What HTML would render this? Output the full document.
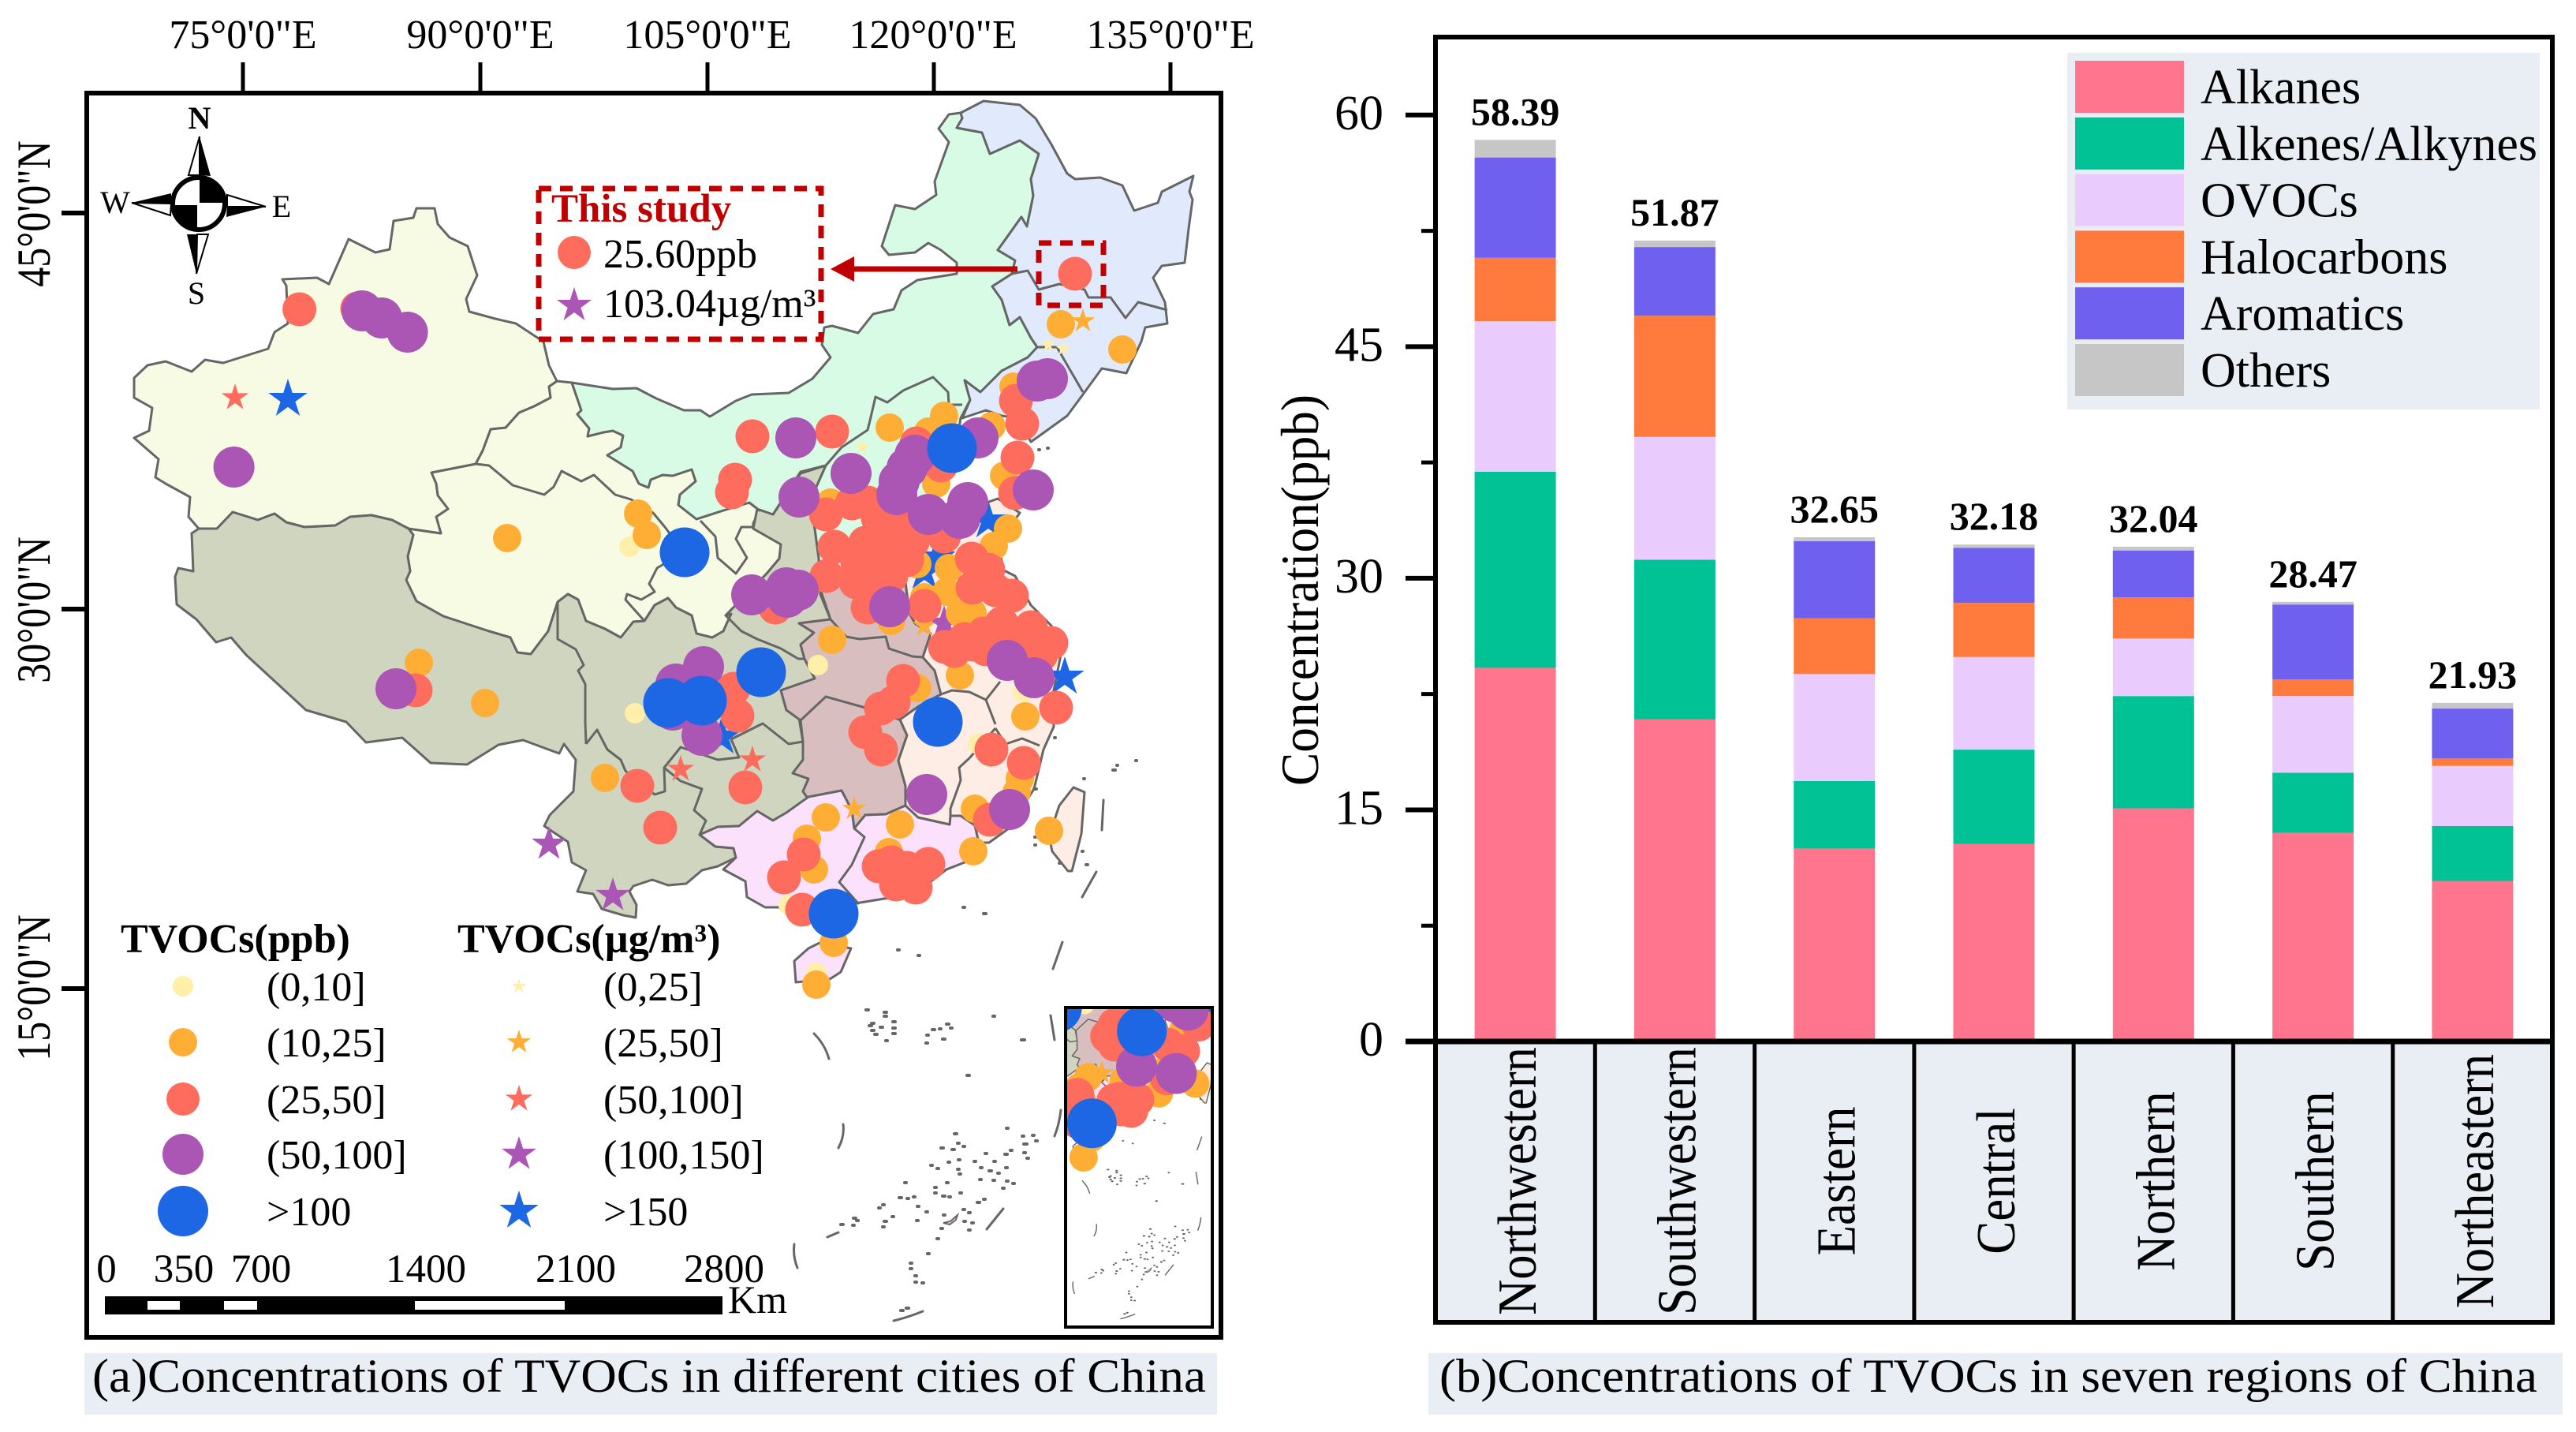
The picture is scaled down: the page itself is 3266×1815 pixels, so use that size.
<!DOCTYPE html>
<html lang="en">
<head>
<meta charset="utf-8">
<title>Concentrations of TVOCs in China</title>
<style>
html,body{margin:0;padding:0;background:#fff;}
svg{display:block;font-family:"Liberation Serif",serif;}
.rg{stroke:#666;stroke-width:3;stroke-linejoin:round;}
.bd{fill:none;stroke:#666;stroke-width:3;stroke-linejoin:round;}
</style>
</head>
<body>
<svg id="figure" xmlns="http://www.w3.org/2000/svg" width="3266" height="1815" viewBox="0 0 3266 1815">
<defs>
<clipPath id="insetClip"><rect x="1351" y="1277" width="186" height="405"/></clipPath>
<g id="baseMap">
<polygon class="rg" fill="#F7FBE3" points="725,485 737,520 732,525 747,543 745,553 765,548 777,546 790,552 787,567 770,577 802,597 810,613 822,618 825,608 840,602 853,603 877,595 882,610 862,627 860,640 883,658 917,647 950,637 963,647 955,663 955,670 990,690 988,708 972,727 920,780 927,778 917,800 903,808 883,803 877,780 857,770 847,758 830,767 817,787 803,788 787,808 767,797 743,787 733,760 720,753 707,763 695,800 673,829 656,827 647,808 620,800 562,781 528,762 515,735 520,724 517,705 524,678 518,670 559,676 553,655 568,645 555,628 553,613 547,599 603,588 612,571 622,544 641,542 658,523 677,515 698,504 696,490 706,483"/>
<polygon class="rg" fill="#F7FBE3" points="528,264 551,264 555,284 570,301 593,312 605,349 591,379 595,395 628,404 654,410 689,433 696,463 706,483 696,490 698,504 677,515 658,523 641,542 622,544 612,571 603,588 547,599 553,613 555,628 568,645 553,655 559,676 518,670 497,659 471,653 444,655 425,666 386,668 363,662 348,651 327,659 295,649 275,670 252,670 239,655 241,630 210,613 197,605 201,582 170,555 189,546 193,517 170,504 170,479 187,463 210,458 243,471 260,456 283,460 340,442 348,421 365,410 363,362 358,354 402,352 417,360 442,303 476,320 494,316 499,280 524,276"/>
<polygon class="rg" fill="#CFD5BF" points="252,670 275,670 295,649 327,659 348,651 363,662 386,668 425,666 444,655 471,653 497,659 518,670 524,678 517,705 520,724 515,735 528,762 562,781 620,800 647,808 656,827 673,829 695,800 707,763 720,753 733,760 743,787 767,797 787,808 803,788 817,787 830,767 847,758 857,770 877,780 883,803 903,808 917,800 927,778 920,780 972,727 988,708 990,690 955,670 960,645 980,652 1015,600 1047,590 1028,633 1038,707 1040,753 1053,785 1013,790 1032,802 1015,817 1020,835 1033,860 990,875 997,900 1013,910 1018,940 1018,963 1005,980 1025,987 1018,1003 1025,1013 997,1030 980,1040 960,1028 937,1047 910,1048 887,1058 907,1073 930,1075 933,1087 910,1098 890,1103 870,1120 847,1122 827,1115 803,1123 798,1130 807,1147 806,1163 790,1160 763,1152 752,1133 732,1130 743,1103 725,1093 720,1067 690,1047 697,1033 727,1003 730,963 715,943 709,955 663,938 632,944 592,969 546,967 510,935 464,941 439,915 388,900 312,830 293,808 274,814 249,785 224,766 222,731 226,720 245,724 243,676"/>
<polygon class="rg" fill="#D9BEBF" points="1040,747 1053,785 1013,790 1032,802 1015,817 1020,835 1033,860 990,875 997,900 1015,913 1018,940 1018,963 1005,980 1025,987 1018,1003 1025,1013 1033,1010 1067,1002 1080,1027 1083,1050 1097,1033 1123,1032 1148,1021 1148,996 1139,964 1150,932 1141,912 1165,895 1193,880 1185,850 1170,833 1180,803 1160,790 1153,777 1147,730 1100,735"/>
<polygon class="rg" fill="#FBE1FB" points="887,1058 910,1048 937,1047 960,1028 980,1040 997,1030 1025,1010 1067,1002 1080,1027 1083,1050 1097,1033 1123,1032 1148,1021 1164,1036 1204,1045 1205,1034 1218,1034 1236,1046 1241,1068 1223,1093 1200,1102 1179,1118 1154,1136 1121,1139 1097,1143 1053,1150 970,1150 947,1137 945,1117 917,1102 933,1087 930,1075 907,1073"/>
<polygon class="rg" fill="#FBE1FB" points="1039,1195 1079,1202 1066,1232 1052,1241 1009,1245 1007,1218 1025,1202"/>
<polygon class="rg" fill="#FDEDE4" points="1147,730 1173,693 1190,640 1243,640 1265,632 1293,650 1265,690 1273,723 1287,730 1307,767 1333,793 1345,830 1335,880 1336,921 1323,950 1311,1000 1279,1050 1254,1068 1241,1068 1236,1046 1218,1034 1205,1034 1204,1045 1164,1036 1148,1021 1148,996 1139,964 1150,932 1141,912 1165,895 1193,880 1185,850 1170,833 1180,803 1160,790 1153,777"/>
<polygon class="rg" fill="#FDEDE4" points="1361,998 1375,1004 1371,1057 1359,1104 1354,1104 1334,1079 1330,1060 1343,1021"/>
<polygon class="rg" fill="#D7FBE5" points="725,485 777,493 807,492 832,505 867,520 888,520 900,528 933,508 953,500 1000,498 1030,480 1053,453 1042,437 1045,415 1055,413 1088,422 1107,398 1133,392 1143,368 1163,355 1213,347 1213,333 1193,317 1177,308 1160,320 1127,323 1118,312 1135,260 1160,265 1187,247 1185,230 1203,180 1190,163 1203,145 1218,143 1220,150 1213,162 1245,168 1255,195 1293,178 1317,195 1307,227 1310,248 1302,287 1295,275 1265,317 1287,330 1283,347 1258,363 1270,380 1280,412 1293,402 1307,428 1315,440 1303,453 1270,470 1243,497 1223,482 1230,507 1218,530 1210,580 1190,610 1180,640 1173,693 1147,730 1100,735 1040,747 1038,707 1028,633 1047,590 1015,598 980,652 960,645 963,647 950,637 917,647 883,658 860,640 862,627 882,610 877,595 853,603 840,602 825,608 822,618 810,613 802,597 770,577 787,567 790,552 777,546 765,548 745,553 747,543 732,525 737,520"/>
<polygon class="rg" fill="#E0EAFC" points="1218,143 1247,128 1293,133 1313,150 1333,183 1353,220 1363,227 1395,225 1423,235 1438,267 1468,257 1473,243 1513,223 1508,243 1512,253 1507,290 1502,333 1473,337 1462,352 1477,383 1480,410 1452,415 1447,433 1428,473 1397,467 1373,500 1353,527 1317,553 1307,560 1290,530 1270,527 1250,520 1220,530 1230,507 1223,482 1243,497 1270,470 1303,453 1315,440 1307,428 1293,402 1280,412 1270,380 1258,363 1283,347 1287,330 1265,317 1295,275 1302,287 1310,248 1307,227 1317,195 1293,178 1255,195 1245,168 1213,162 1220,150"/>
<polyline class="bd" points="707,763 707,810 730,823 740,843 733,850 742,867 742,915 743,943"/>
<polyline class="bd" points="743,943 757,925 770,950 787,963 793,977 830,1007 843,1003 842,973 863,947 910,963 937,960 927,937 967,917 1000,943 1018,940"/>
<polyline class="bd" points="842,973 863,990 890,1000 880,1027 895,1040 887,1058"/>
<polyline class="bd" points="920,780 940,800 960,810 990,822 1012,835 1020,835"/>
<polyline class="bd" points="603,588 620,590 650,615 690,627 702,617 712,597 737,610 753,602 780,627 800,633 828,650 843,668 867,700 833,720 823,740 830,750 813,760 795,753 793,760 817,787"/>
<polyline class="bd" points="888,660 907,680 910,707 933,727 947,707 933,683 940,668 955,668"/>
<polyline class="bd" points="1015,913 1047,883 1097,897 1143,913"/>
<polyline class="bd" points="1053,785 1073,807 1090,810 1123,807 1127,822 1157,832 1170,833"/>
<polyline class="bd" points="1083,1050 1096,1061 1080,1096 1064,1118 1089,1146"/>
<polyline class="bd" points="1262,923 1275,943 1296,936 1318,945"/>
<polyline class="bd" points="1262,923 1229,961 1216,973 1218,989 1205,1025 1205,1034"/>
<polyline class="bd" points="1193,880 1207,875 1229,877 1250,887 1262,918"/>
<polyline class="bd" points="1268,864 1250,887"/>
<polyline class="bd" points="1283,347 1303,343 1317,367 1343,360 1375,367 1380,377 1408,377 1427,403 1443,383 1480,393"/>
<polyline class="bd" points="1315,440 1340,440 1373,497"/>
<polyline class="bd" points="1047,590 1067,567 1100,545 1103,533 1110,503 1125,510 1145,495 1183,478 1202,497 1203,513 1220,513"/>
<g fill="none" stroke="#666" stroke-width="3" stroke-linecap="round">
<path d="M1399,1014L1397,1052M1390,1105L1372,1137M1347,1194L1335,1228M1332,1287L1337,1318M1032,1310Q1046,1324 1051,1342M1069,1425Q1071,1440 1063,1455M1345,1407Q1343,1425 1337,1440M1272,1532L1251,1558M1007,1577Q1005,1592 1011,1607M1170,1662Q1150,1670 1133,1674M1049,1568L1063,1562"/>
</g>
<path fill="none" stroke="#666" stroke-width="4" stroke-linecap="round" d="M1105,1297h3M1102,1300h3M1098,1280h3M1121,1283h3M1121,1288h3M1116,1302h3M1105,1306h3M1132,1295h3M1132,1303h3M1132,1310h3M1109,1311h3M1123,1319h2M1175,1312h2M1182,1305h3M1191,1304h2M1200,1298h3M1205,1303h2M1195,1317h3M1174,1322h2M1259,1288h2M1295,1318h4M1226,1363h3M1210,1437h3M1193,1455h3M1207,1457h3M1214,1449h2M1221,1453h2M1202,1473h2M1215,1470h2M1180,1477h2M1188,1481h2M1214,1482h2M1216,1488h2M1235,1472h2M1243,1480h2M1254,1484h3M1260,1472h2M1265,1487h2M1275,1480h2M1249,1462h2M1274,1463h3M1281,1458h2M1298,1450h4M1296,1440h2M1309,1439h2M1313,1446h2M1298,1461h2M1302,1468h2M1276,1430h2M1242,1495h2M1259,1496h2M1276,1497h2M1284,1500h2M1271,1506h2M1147,1499h2M1200,1499h2M1185,1505h2M1185,1512h2M1195,1516h3M1203,1517h2M1217,1512h2M1140,1518h3M1150,1519h2M1158,1517h2M1119,1527h2M1114,1531h2M1163,1529h2M1239,1524h3M1247,1520h2M1174,1536h2M1221,1533h2M1228,1537h2M1196,1540h2M1162,1547h2M1131,1542h2M1121,1548h3M1119,1555h2M1082,1544h3M1086,1547h2M1081,1553h2M1066,1552h3M1222,1548h2M1232,1550h2M1228,1559h2M1193,1557h2M1188,1570h2M1176,1589h2M1154,1601h2M1154,1608h2M1160,1617h2M1160,1625h2M1169,1626h2M1142,1661h3M1149,1658h3M1221,1150h2M1247,1158h3M1138,1204h2M1164,1211h2M1411,976h3M1416,970h1M1440,964h1M1374,987h1M1372,1079h1M1377,1096h2M1311,1000h3M1337,935h1M1312,1061h1M1312,1071h1M1343,1094h1M1317,570h1M1328,568h1"/>
<polygon fill="#FBE1FB" stroke="#666" stroke-width="2" points="1196,1550 1205,1548 1214,1540 1212,1546 1204,1552"/>
</g>
</defs>

<rect x="0" y="0" width="3266" height="1815" fill="#fff"/>

<!-- PANEL A -->
<g>
<use href="#baseMap"/>
<g id="mapMarkers"></g>

<rect x="1351" y="1277" width="186" height="405" fill="#fff"/>
<g clip-path="url(#insetClip)">
<use href="#baseMap" transform="matrix(.48,0,0,.48,877,868)"/>
<g id="insetMarkers"></g>
</g>
<rect x="1351" y="1277" width="186" height="405" fill="none" stroke="#000" stroke-width="4"/>

<rect x="110" y="118" width="1438" height="1577" fill="none" stroke="#000" stroke-width="6"/>

<g stroke="#000" stroke-width="5">
<line x1="308" y1="79" x2="308" y2="118"/>
<line x1="609" y1="79" x2="609" y2="118"/>
<line x1="897" y1="79" x2="897" y2="118"/>
<line x1="1184" y1="79" x2="1184" y2="118"/>
<line x1="1484" y1="79" x2="1484" y2="118"/>
</g>
<g font-size="52" text-anchor="middle" fill="#000">
<text x="308" y="61">75°0'0"E</text>
<text x="609" y="61">90°0'0"E</text>
<text x="897" y="61">105°0'0"E</text>
<text x="1183" y="61">120°0'0"E</text>
<text x="1484" y="61">135°0'0"E</text>
</g>
<g stroke="#000" stroke-width="6">
<line x1="78" y1="270" x2="110" y2="270"/>
<line x1="78" y1="772" x2="110" y2="772"/>
<line x1="78" y1="1253" x2="110" y2="1253"/>
</g>
<g font-size="50" text-anchor="middle" fill="#000">
<text transform="translate(63,271) rotate(-90) scale(1,1.2)">45°0'0"N</text>
<text transform="translate(63,773) rotate(-90) scale(1,1.2)">30°0'0"N</text>
<text transform="translate(63,1252) rotate(-90) scale(1,1.2)">15°0'0"N</text>
</g>

<g>
<path fill="#fff" stroke="#000" stroke-width="2" d="M253,173L239,222L253,222ZM337,262L288,247L288,262ZM249,347L264,297L250,297ZM167,257L216,273L217,258Z"/>
<path fill="#000" d="M253,173L267,223L253,222ZM337,262L287,275L288,262ZM249,347L237,297L250,297ZM167,257L217,245L217,258Z"/>
<circle cx="252" cy="258" r="33" fill="#fff" stroke="#000" stroke-width="6"/>
<path fill="#000" d="M253,257V227A30,30 0 0 1 282,257ZM250,260H222A30,30 0 0 0 250,290Z"/>
<text x="253" y="163" font-size="40" font-weight="bold" text-anchor="middle">N</text>
<text x="146" y="270" font-size="40" text-anchor="middle">W</text>
<text x="357" y="275" font-size="40" text-anchor="middle">E</text>
<text x="249" y="385" font-size="40" text-anchor="middle">S</text>
</g>

<g>
<rect x="683" y="239" width="358" height="191" fill="#fff" stroke="#C00000" stroke-width="7" stroke-dasharray="16 11"/>
<text x="699" y="281" font-size="51" font-weight="bold" fill="#C00000">This study</text>
<circle cx="728" cy="320" r="21" fill="#FE6C5E"/>
<text x="765" y="339" font-size="52" fill="#000">25.60ppb</text>
<polygon fill="#AB55B5" points="728,364 733.2,380 750,380 736.4,390 741.5,406 728,396 714.5,406 719.6,390 706,380 722.8,380"/>
<text x="765" y="402" font-size="52" fill="#000">103.04µg/m³</text>
<rect x="1317" y="308" width="82" height="79" fill="none" stroke="#C00000" stroke-width="7" stroke-dasharray="16 11"/>
<line x1="1290" y1="341" x2="1075" y2="341" stroke="#C00000" stroke-width="7"/>
<polygon fill="#C00000" points="1053,341 1083,325 1083,357"/>
</g>

<g fill="#000">
<text x="153" y="1207" font-size="52" font-weight="bold">TVOCs(ppb)</text>
<text x="580" y="1207" font-size="52" font-weight="bold">TVOCs(µg/m³)</text>
<circle cx="232" cy="1250" r="13" fill="#FFEFA8"/>
<circle cx="232" cy="1321" r="18" fill="#FFAE35"/>
<circle cx="232" cy="1393" r="21" fill="#FE6C5E"/>
<circle cx="232" cy="1463" r="26" fill="#AB55B5"/>
<circle cx="232" cy="1535" r="32" fill="#1D66E4"/>
<text x="338" y="1268" font-size="52">(0,10]</text>
<text x="338" y="1339" font-size="52">(10,25]</text>
<text x="338" y="1411" font-size="52">(25,50]</text>
<text x="338" y="1481" font-size="52">(50,100]</text>
<text x="338" y="1553" font-size="52">&gt;100</text>
<text x="765" y="1268" font-size="52">(0,25]</text>
<text x="765" y="1339" font-size="52">(25,50]</text>
<text x="765" y="1411" font-size="52">(50,100]</text>
<text x="765" y="1481" font-size="52">(100,150]</text>
<text x="765" y="1553" font-size="52">&gt;150</text>
<g id="legendStars"></g>
</g>

<g>
<rect x="133" y="1643" width="783" height="23" fill="#000"/>
<rect x="187" y="1649" width="41" height="11" fill="#fff"/>
<rect x="284" y="1649" width="42" height="11" fill="#fff"/>
<rect x="526" y="1649" width="190" height="11" fill="#fff"/>
<g font-size="51" text-anchor="middle" fill="#000">
<text x="135" y="1625">0</text>
<text x="233" y="1625">350</text>
<text x="331" y="1625">700</text>
<text x="540" y="1625">1400</text>
<text x="730" y="1625">2100</text>
<text x="918" y="1625">2800</text>
</g>
<text x="923" y="1664" font-size="50" fill="#000">Km</text>
</g>

<rect x="107" y="1715" width="1436" height="78" fill="#E9EEF5"/>
<text x="117" y="1764" font-size="60" textLength="1412" lengthAdjust="spacingAndGlyphs" fill="#000">(a)Concentrations of TVOCs in different cities of China</text>
</g>

<!-- PANEL B -->
<g id="barPanel">
<rect x="1820" y="1320" width="1416" height="356" fill="#E9EEF5"/>
<g id="barMarks"></g>
<g id="barAxes"></g>
<g>
<rect x="2621" y="67" width="599" height="452" fill="#E9EEF5"/>
<g id="barLegend"></g>
</g>
<text transform="translate(1671,748) rotate(-90) scale(1,1.1)" font-size="62" text-anchor="middle" textLength="496" lengthAdjust="spacingAndGlyphs" fill="#000">Concentration(ppb)</text>
<rect x="1811" y="1715" width="1438" height="78" fill="#E9EEF5"/>
<text x="1825" y="1764" font-size="60" textLength="1392" lengthAdjust="spacingAndGlyphs" fill="#000">(b)Concentrations of TVOCs in seven regions of China</text>
</g>
</svg>

<script>
// ---- Bar chart data ----
const categories = ['Northwestern','Southwestern','Eastern','Central','Northern','Southern','Northeastern'];
const seriesNames = ['Alkanes','Alkenes/Alkynes','OVOCs','Halocarbons','Aromatics','Others'];
const alkanes = [24.2,20.85,12.5,12.8,15.1,13.5,10.4];
const alkenes = [12.7,10.35,4.37,6.1,7.27,3.9,3.55];
const ovocs = [9.75,7.95,6.93,6.0,3.73,4.97,3.9];
const halocarbons = [4.1,7.85,3.6,3.5,2.66,1.08,0.48];
const aromatics = [6.5,4.45,5.0,3.56,3.04,4.85,3.23];
const others = [1.14,0.42,0.25,0.22,0.24,0.17,0.37];
const totals = [58.39,51.87,32.65,32.18,32.04,28.47,21.93];
const yTickLabels = ['0','15','30','45','60'];
const yMinorTicks = [7.5,22.5,37.5,52.5];

// ---- Map data: [longitude, latitude] of monitored cities by concentration class ----
const cities0to10 = [[99.5,32.31],[111.45,27.81],[124.45,26.79],[121.6,24.81],[99.85,25.98],[111.35,16.11],[109.6,18.69]];
const cities10to25 = [[91.75,32.64],[100.05,33.57],[100.6,32.76],[126.85,40.77],[130.75,39.81],[116,36.84],[119.45,37.29],[123.85,38.4],[122.45,36.9],[123.25,35.01],[118.45,36.69],[112.25,33.99],[117.75,31.65],[119.75,31.5],[119.6,30.6],[118.2,30.39],[123.5,33],[122.6,32.34],[120.45,29.79],[121.25,29.79],[116.1,29.49],[112.35,28.77],[120.45,27.42],[124.6,25.86],[117.75,26.94],[124.25,23.49],[124.05,22.98],[113.95,33.9],[118.95,34.71],[97.95,23.52],[111.95,22.02],[110.75,21.21],[111.2,20.04],[112.45,17.25],[111.35,15.66],[116.65,21.75],[115.95,20.7],[101.35,21.66],[121.3,20.73],[126.1,21.51],[121.4,22.35],[86.15,27.9],[90.35,26.37]];
const cities25to50 = [[127.75,42.69],[78.58,41.34],[82.25,41.37],[107.3,36.51],[112.35,36.69],[106.2,34.86],[106,34.38],[108.75,30],[124,37.86],[124.4,36.99],[124.1,35.7],[117.7,36.24],[111.95,33.54],[113.6,33.96],[114.6,33.99],[115.95,33.9],[112.5,32.31],[114.45,32.46],[115.6,32.79],[116.25,33.3],[117.45,32.49],[119.45,32.7],[112,31.2],[114.45,31.8],[115.95,32.4],[116.1,31.2],[113.85,30.96],[114.6,30],[118.2,30.06],[121.2,31.86],[122.25,31.44],[121.25,30.75],[122.7,30.66],[123.75,30.45],[119.5,28.5],[120.75,28.8],[121.95,29.01],[123.1,29.4],[124.95,29.25],[126.25,28.65],[124.1,28.5],[125.6,28.2],[122.1,28.41],[126.55,26.19],[123.95,34.35],[119.25,35.4],[116.85,27.21],[116.25,26.4],[115.45,26.16],[114.45,25.26],[115.45,24.6],[106.35,25.89],[106.1,26.91],[122.45,24.6],[124.5,24.09],[106.85,23.16],[100,23.22],[101.45,21.63],[110.55,20.61],[109.3,19.74],[110.45,18.51],[115.3,20.16],[116.1,20.31],[117.1,20.1],[118.45,20.25],[116.4,19.47],[117.65,19.35],[122.35,21.93],[85.95,26.85],[116.1,32.1],[114.6,30.9],[115.25,33.39],[115.1,31.5],[117.1,31.8],[121.25,28.59],[122.95,28.5],[124.6,28.8],[115.25,31.89],[113.95,31.71],[115.25,30.9],[116.25,31.89],[117.25,33.09],[118.6,33.09],[120.1,28.35],[123.1,28.65],[124.6,28.2]];
const cities50to100 = [[82.55,41.28],[83.8,41.01],[85.43,40.47],[74.43,35.34],[110.05,36.45],[110.25,34.2],[107.25,30.48],[109.45,30.75],[110.2,30.66],[109.5,30.39],[125.35,38.61],[126,38.7],[121.6,36.45],[113.55,35.1],[117.6,35.79],[117.1,35.31],[116.6,34.8],[116.45,34.29],[125.1,34.47],[118.45,33.54],[120.45,33.39],[120.95,33.99],[116,30.03],[123.45,27.99],[125.15,27.33],[118.35,22.89],[104.2,27.75],[102.45,27.09],[104.1,25.14],[102.25,26.1],[123.6,22.32],[84.7,26.91]];
const citiesOver100 = [[103,32.1],[119.95,36.06],[107.85,27.54],[119.05,25.65],[101.95,26.37],[104.1,26.46],[112.45,18.36]];
const stars0to25 = [[126.05,39.99],[127,39.84],[114.25,36.09]];
const stars25to50 = [[128.25,40.89],[113.75,22.35],[118.2,29.31]];
const stars50to100 = [[74.5,37.98],[102.75,23.85],[107.3,24.21]];
const stars100to150 = [[94.4,21],[98.45,19.05],[119.45,29.4]];
const starsOver150 = [[77.85,37.92],[118.95,31.89],[122.25,33.3],[127.1,27.36],[118.2,31.35],[105.35,25.08]];

// ---- Palettes and scales ----
const seriesColors = ['#FF758E','#00C295','#E9CCFD','#FF7A3C','#7060F0','#C6C6C6'];
const NS = 'http://www.w3.org/2000/svg';
function mk(tag, parent) {
  const el = document.createElementNS(NS, tag);
  parent.appendChild(el);
  return el;
}
function lonX(lon) { return 308 + (lon - 75) / 0.05; }
function latY(lat) { return 270 + (45 - lat) / 0.03; }
function yScale(v) { return 1320 - v * 19.57; }
const plotLeft = 1820, plotRight = 3236, bandW = (plotRight - plotLeft) / categories.length;
function bandX(i) { return plotLeft + bandW * (i + 0.5); }
function starPts(cx, cy, R) {
  const pts = [];
  for (let k = 0; k < 10; k++) {
    const r = k % 2 ? R * 0.382 : R;
    const a = -Math.PI / 2 + k * Math.PI / 5;
    pts.push((cx + r * Math.cos(a)).toFixed(1) + ',' + (cy + r * Math.sin(a)).toFixed(1));
  }
  return pts.join(' ');
}

// ---- Map markers ----
const mapLayer = document.getElementById('mapMarkers');
const insetLayer = document.getElementById('insetMarkers');
function drawMarkers(layer, project, suffix) {
  const starSets = [[stars0to25,10,'#FFEFA8'],[stars25to50,16,'#FFAE35'],[stars50to100,18,'#FE6C5E'],[stars100to150,23,'#AB55B5'],[starsOver150,26,'#1D66E4']];
  starSets.forEach(function (set) {
    set[0].forEach(function (p) {
      const q = project(p);
      const s = mk('polygon', layer);
      s.setAttribute('points', starPts(q[0], q[1], set[1]));
      s.setAttribute('fill', set[2]);
      
      
    });
  });
  const circleSets = [[cities0to10,13,'#FFEFA8'],[cities10to25,18,'#FFAE35'],[cities25to50,21.5,'#FE6C5E'],[cities50to100,26,'#AB55B5'],[citiesOver100,31.5,'#1D66E4']];
  circleSets.forEach(function (set) {
    set[0].forEach(function (p) {
      const q = project(p);
      const c = mk('circle', layer);
      c.setAttribute('cx', q[0].toFixed(1));
      c.setAttribute('cy', q[1].toFixed(1));
      c.setAttribute('r', set[1]);
      c.setAttribute('fill', set[2]);
      
      
    });
  });
}
drawMarkers(mapLayer, function (p) { return [lonX(p[0]), latY(p[1])]; }, '');
drawMarkers(insetLayer, function (p) { return [0.48 * lonX(p[0]) + 877, 0.48 * latY(p[1]) + 868]; }, '-inset');

// ---- Map legend stars ----
const legendStarLayer = document.getElementById('legendStars');
[[1250,10,'#FFEFA8'],[1321,16,'#FFAE35'],[1393,18,'#FE6C5E'],[1463,23,'#AB55B5'],[1535,26,'#1D66E4']].forEach(function (row) {
  const s = mk('polygon', legendStarLayer);
  s.setAttribute('points', starPts(658, row[0], row[1]));
  s.setAttribute('fill', row[2]);
  
  
});

// ---- Stacked bars ----
const barLayer = document.getElementById('barMarks');
const seriesValues = [alkanes, alkenes, ovocs, halocarbons, aromatics, others];
const barW = 103;
categories.forEach(function (cat, i) {
  let cum = 0;
  seriesValues.forEach(function (vals, s) {
    const v = vals[i];
    const r = mk('rect', barLayer);
    r.setAttribute('x', (bandX(i) - barW / 2).toFixed(1));
    r.setAttribute('y', yScale(cum + v).toFixed(1));
    r.setAttribute('width', barW);
    r.setAttribute('height', (yScale(cum) - yScale(cum + v)).toFixed(1));
    r.setAttribute('fill', seriesColors[s]);
    
    
    cum += v;
  });
  const t = mk('text', barLayer);
  t.textContent = totals[i].toFixed(2);
  t.setAttribute('x', bandX(i).toFixed(1));
  t.setAttribute('y', (yScale(cum) - 19).toFixed(1));
  t.setAttribute('font-size', '50');
  t.setAttribute('font-weight', 'bold');
  t.setAttribute('text-anchor', 'middle');
  
  
  const c = mk('text', barLayer);
  c.textContent = cat;
  const sx = cat.length >= 12 ? 0.96 : 0.97;
  c.setAttribute('transform', 'translate(' + (bandX(i) + 26).toFixed(1) + ',1497) rotate(-90) scale(' + sx + ',1.08)');
  c.setAttribute('font-size', '65');
  c.setAttribute('text-anchor', 'middle');
  
  
});

// ---- Axes and frame ----
const axisLayer = document.getElementById('barAxes');
function axisLine(x1, y1, x2, y2, w, name) {
  const l = mk('line', axisLayer);
  l.setAttribute('x1', x1);
  l.setAttribute('y1', y1);
  l.setAttribute('x2', x2);
  l.setAttribute('y2', y2);
  l.setAttribute('stroke', '#000');
  l.setAttribute('stroke-width', w);
  
  
}
axisLine(plotLeft, 44, plotLeft, 1679, 6, 'y-axis-line');
axisLine(plotLeft, 47, plotRight + 3, 47, 6, 'top-frame-line');
axisLine(plotRight, 44, plotRight, 1679, 6, 'right-frame-line');
axisLine(plotLeft - 38, 1320, plotRight + 3, 1320, 7, 'x-axis-line');
axisLine(plotLeft, 1676, plotRight + 3, 1676, 6, 'category-band-bottom');
for (let i = 1; i < categories.length; i++) {
  axisLine((plotLeft + bandW * i).toFixed(1), 1320, (plotLeft + bandW * i).toFixed(1), 1676, 5, 'category-separator');
}
yTickLabels.forEach(function (lab) {
  const v = Number(lab);
  axisLine(plotLeft - 38, yScale(v), plotLeft, yScale(v), 6, 'y-major-tick');
  const t = mk('text', axisLayer);
  t.textContent = lab;
  t.setAttribute('x', '1754');
  t.setAttribute('y', (yScale(v) + 18).toFixed(1));
  t.setAttribute('font-size', '62');
  t.setAttribute('text-anchor', 'end');
  
  
});
yMinorTicks.forEach(function (v) {
  axisLine(plotLeft - 18, yScale(v), plotLeft, yScale(v), 5, 'y-minor-tick');
});

// ---- Bar legend ----
const legendLayer = document.getElementById('barLegend');
seriesNames.forEach(function (name, s) {
  const cy = 110 + s * 71.8;
  const r = mk('rect', legendLayer);
  r.setAttribute('x', '2631');
  r.setAttribute('y', (cy - 33).toFixed(1));
  r.setAttribute('width', '138');
  r.setAttribute('height', '66');
  r.setAttribute('fill', seriesColors[s]);
  
  
  const t = mk('text', legendLayer);
  t.textContent = name;
  t.setAttribute('x', '2790');
  t.setAttribute('y', (cy + 21).toFixed(1));
  t.setAttribute('font-size', '62');
  
  
});
</script>
</body>
</html>
